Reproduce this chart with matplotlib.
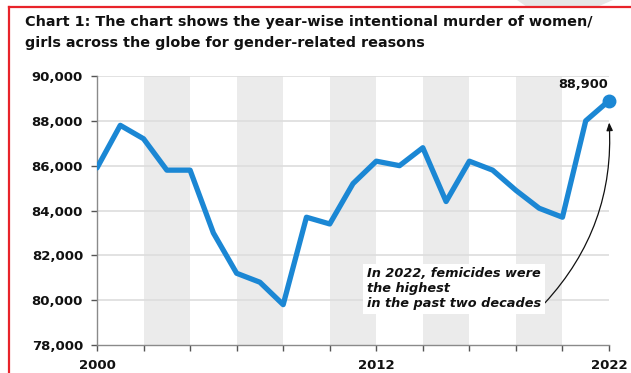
import matplotlib
matplotlib.use("Agg")
import matplotlib.pyplot as plt
from matplotlib.lines import Line2D
from matplotlib.patches import Polygon

years = list(range(2000, 2023))
murders = [85900, 87800, 87200, 85800, 85800, 83000, 81200, 80800, 79800,
           83700, 83400, 85200, 86200, 86000, 86800, 84400, 86200, 85800,
           84900, 84100, 83700, 88000, 88900]
y_ticks = [78000, 80000, 82000, 84000, 86000, 88000, 90000]
x_labels = {2000: "2000", 2012: "2012", 2022: "2022"}
band_starts = [2002, 2006, 2010, 2014, 2018]

title_line1 = "Chart 1: The chart shows the year-wise intentional murder of women/"
title_line2 = "girls across the globe for gender-related reasons"
note = "In 2022, femicides were\nthe highest\nin the past two decades"

FONT = "DejaVu Sans"
W, H, DPI = 631, 373, 100
fig = plt.figure(figsize=(W / DPI, H / DPI), dpi=DPI)
fig.patch.set_facecolor("white")

# red frame on the top and left edges, with a faint grey shape above it
fig.add_artist(Polygon([(517 / W, 1.0), (613 / W, 1.0), (597 / W, 1 - 7 / H),
                        (527 / W, 1 - 7 / H)], closed=True,
                       transform=fig.transFigure, facecolor="#e6e6e6",
                       edgecolor="none"))
fig.add_artist(Line2D([9 / W, 1.0], [1 - 7 / H, 1 - 7 / H],
                      transform=fig.transFigure, color="#e8232a", lw=1.6))
fig.add_artist(Line2D([9 / W, 9 / W], [0, 1 - 7 / H],
                      transform=fig.transFigure, color="#e8232a", lw=1.6))

# title
TS = 10.4
fig.text(25 / W, 1 - 26 / H, title_line1, fontsize=TS,
         fontweight="bold", family=FONT, color="#111111", va="baseline")
fig.text(25 / W, 1 - 47 / H, title_line2, fontsize=TS,
         fontweight="bold", family=FONT, color="#111111", va="baseline")

ax = fig.add_axes([97 / W, 1 - 345 / H, (609 - 97) / W, (345 - 76) / H])
ax.set_xlim(2000, 2022)
ax.set_ylim(78000, 90000)

for s in band_starts:
    ax.axvspan(s, s + 2, color="#ebebeb", lw=0, zorder=0)
for v in y_ticks[1:]:
    ax.axhline(v, color="#dddddd", lw=1.2, zorder=1)

ax.plot(years, murders, color="#1b87d4", lw=3.8, solid_joinstyle="round",
        solid_capstyle="round", zorder=3)
ax.plot(years[-1], murders[-1], "o", color="#1b87d4", ms=9, clip_on=False,
        zorder=4)
ax.annotate(f"{murders[-1]:,}", (years[-1], murders[-1]), xytext=(-1, 7),
            textcoords="offset points", ha="right", va="bottom",
            fontsize=9.3, fontweight="bold", family=FONT, color="#111111")

ax.annotate(note, xy=(2022.0, 88050), xytext=(2011.6, 80500),
            fontsize=9.3, fontweight="bold", fontstyle="italic",
            family=FONT, color="#111111", ha="left", va="center",
            linespacing=1.2,
            bbox=dict(boxstyle="square,pad=0.3", fc="white", ec="none"),
            arrowprops=dict(arrowstyle="-|>,head_length=0.5,head_width=0.2",
                            color="#111111", lw=0.9,
                            connectionstyle="arc3,rad=0.22",
                            shrinkA=0, shrinkB=2,
                            relpos=(1.0, 0.08)),
            zorder=5)

for sp in ("top", "right"):
    ax.spines[sp].set_visible(False)
for sp in ("left", "bottom"):
    ax.spines[sp].set_color("#8a8a8a")
    ax.spines[sp].set_linewidth(1.0)

ax.set_yticks(y_ticks)
ax.set_yticklabels([f"{v:,}" for v in y_ticks])
ax.set_xticks(list(range(2000, 2023, 2)))
ax.set_xticklabels([x_labels.get(x, "") for x in range(2000, 2023, 2)])
ax.tick_params(axis="both", colors="#555555", length=4, width=1.0,
               labelcolor="#111111", labelsize=9.5)
ax.tick_params(axis="x", pad=6)
ax.tick_params(axis="y", pad=6)
for lab in ax.get_xticklabels() + ax.get_yticklabels():
    lab.set_fontweight("bold")
    lab.set_family(FONT)

fig.savefig("out.png", dpi=DPI)
